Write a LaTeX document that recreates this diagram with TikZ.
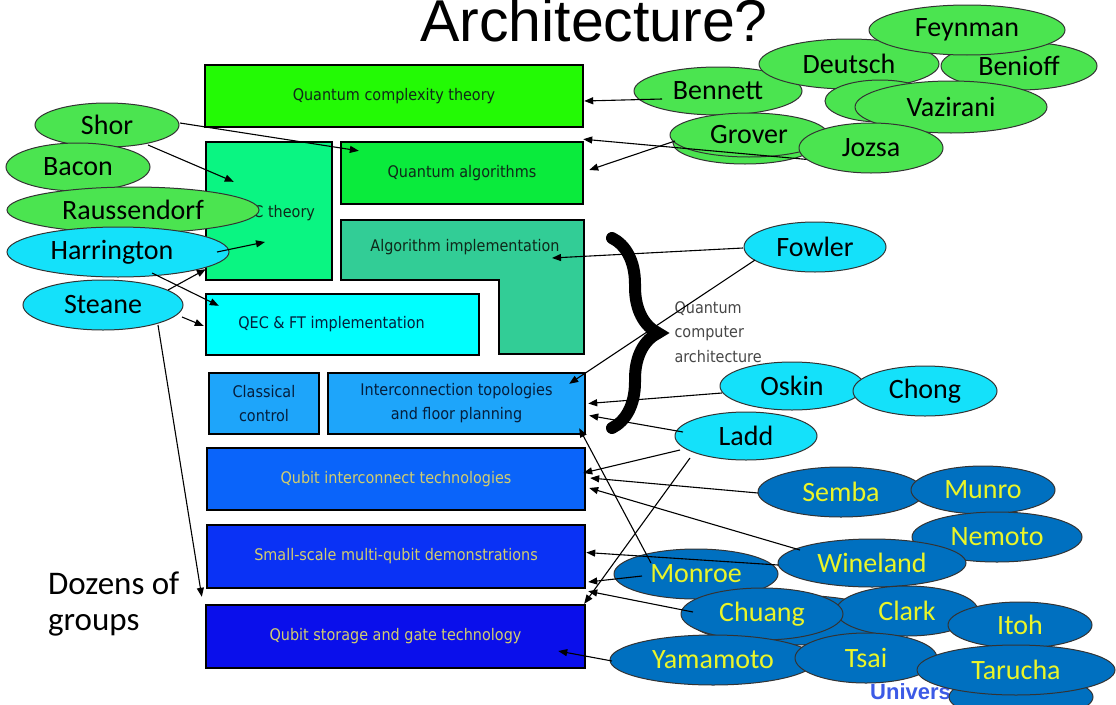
\documentclass[tikz,border=0pt]{standalone}
\usepackage{fontspec}
\setmainfont{Carlito}
\newfontfamily\boxfont{DejaVu Sans}[FakeStretch=0.9]
\newfontfamily\titlefont{Liberation Sans}
\usetikzlibrary{shapes.geometric,calc,arrows.meta,decorations.pathreplacing}

\definecolor{cComplex}{RGB}{35,250,5}
\definecolor{cQecTh}{RGB}{10,245,130}
\definecolor{cAlgo}{RGB}{10,235,60}
\definecolor{cAlgImp}{RGB}{50,205,150}
\definecolor{cQecFt}{RGB}{0,255,255}
\definecolor{cTopo}{RGB}{30,165,250}
\definecolor{cIntc}{RGB}{10,100,250}
\definecolor{cSmall}{RGB}{10,50,245}
\definecolor{cStore}{RGB}{10,15,235}
\definecolor{txtDark}{RGB}{15,40,25}
\definecolor{txtBlue}{RGB}{5,30,60}
\definecolor{txtKhaki}{RGB}{210,205,110}
\definecolor{eGreen}{RGB}{75,228,80}
\definecolor{eCyan}{RGB}{20,225,250}
\definecolor{eBlue}{RGB}{0,112,192}
\definecolor{eYellow}{RGB}{235,245,40}
\definecolor{archGray}{RGB}{70,70,70}
\definecolor{uniBlue}{RGB}{60,90,230}

\begin{document}
\begin{tikzpicture}[x=1pt,y=-1pt,
  layer/.style={draw=black, line width=2.4pt, inner sep=0pt, align=center,
    font=\boxfont\fontsize{16}{24}\selectfont},
  person/.style={ellipse, draw=black!80, line width=1pt, inner sep=0pt,
    font=\fontsize{28}{30}\selectfont},
  grn/.style={person, fill=eGreen},
  cyn/.style={person, fill=eCyan},
  blu/.style={person, fill=eBlue, text=eYellow},
  arr/.style={-{Triangle[length=9pt,width=7pt]}, line width=1.1pt, black}
]
\useasboundingbox (0,0) rectangle (1116,704);

% title
\node[anchor=base west, inner sep=0pt, font=\titlefont\fontsize{59}{60}\selectfont] (title) at (420,41) {Architecture?};

% layers of the stack
\node[layer, fill=cComplex, text=txtDark, minimum width=378pt, minimum height=62pt] (qct) at (394,96) {Quantum complexity theory};
\node[layer, fill=cQecTh, text=txtDark, minimum width=126pt, minimum height=138pt] (qect) at (269,211) {};
\node[font=\boxfont\fontsize{16}{24}\selectfont, text=txtDark] (qecttxt) at (274,213) {QEC theory};
\node[layer, fill=cAlgo, text=txtDark, minimum width=242pt, minimum height=62pt] (qalg) at (462,173) {Quantum algorithms};
\draw[line width=2.4pt, fill=cAlgImp] (341,220) -- (584,220) -- (584,354) -- (499,354) -- (499,280) -- (341,280) -- cycle;
\node[font=\boxfont\fontsize{16}{24}\selectfont, text=txtDark] (alg) at (465,247) {Algorithm implementation};
\node[layer, fill=cQecFt, text=txtBlue, minimum width=273pt, minimum height=61pt] (qecft) at (342.5,324.5) {\hspace*{-22pt}QEC \& FT implementation};
\node[layer, fill=cTopo, text=txtBlue, minimum width=110pt, minimum height=61pt] (clc) at (264,403.5) {Classical\\control};
\node[layer, fill=cTopo, text=txtBlue, minimum width=257pt, minimum height=61pt] (itop) at (456.5,403.5) {Interconnection topologies\\and floor planning};
\node[layer, fill=cIntc, text=txtKhaki, minimum width=378pt, minimum height=62pt] (qit) at (396,479) {Qubit interconnect technologies};
\node[layer, fill=cSmall, text=txtKhaki, minimum width=378pt, minimum height=63pt] (ssd) at (396,556.5) {Small-scale multi-qubit demonstrations};
\node[layer, fill=cStore, text=txtKhaki, minimum width=379pt, minimum height=63pt] (sgt) at (395.5,636.5) {Qubit storage and gate technology};

% brace and its label
\coordinate (braceTop) at (612,238);
\coordinate (braceBot) at (612,428);
\draw[decorate, decoration={brace, amplitude=46pt, aspect=0.5}, line width=12pt, line cap=round] (braceTop) -- (braceBot);
\node[anchor=west, align=left, text=archGray, font=\boxfont\fontsize{16}{24.5}\selectfont] (arch) at (671,332) {Quantum\\computer\\architecture};

% left group
\node[grn, minimum width=144pt, minimum height=44pt] (Shor) at (107,125) {Shor};
\node[grn, minimum width=144pt, minimum height=48pt] (Bacon) at (78,167) {Bacon};
\node[grn, minimum width=252pt, minimum height=46pt] (Raussendorf) at (133,210) {Raussendorf};
\node[cyn, minimum width=222pt, minimum height=50pt] (Harrington) at (118,252) {\hspace*{-12pt}Harrington};
\node[cyn, minimum width=160pt, minimum height=50pt] (Steane) at (103,305) {Steane};

% upper right group
\node[grn, minimum width=168pt, minimum height=48pt] (Bennett) at (718,91) {Bennett};
\node[grn, minimum width=180pt, minimum height=50pt] (Deutsch) at (849,64) {Deutsch};
\node[grn, minimum width=156pt, minimum height=48pt] (Benioff) at (1019,66) {Benioff};
\node[grn, minimum width=196pt, minimum height=50pt] (Feynman) at (967,30) {Feynman};
\node[grn, minimum width=110pt, minimum height=42pt] (backA) at (880,101) {};
\node[grn, minimum width=192pt, minimum height=52pt] (Vazirani) at (951,107) {Vazirani};
\node[grn, minimum width=144pt, minimum height=42pt] (backB) at (745,143) {};
\node[grn, minimum width=158pt, minimum height=44pt] (Grover) at (749,135) {Grover};
\coordinate (jzc) at (871,148);
\draw[arr] ($(jzc)+(-58,12)$) -- ($(qct.south east)+(-1,11)$);
\node[grn, minimum width=144pt, minimum height=50pt] (Jozsa) at (jzc) {Jozsa};

% middle right group
\node[cyn, minimum width=142pt, minimum height=50pt] (Fowler) at (815,247) {Fowler};
\node[cyn, minimum width=144pt, minimum height=48pt] (Oskin) at (792,386) {Oskin};
\node[cyn, minimum width=144pt, minimum height=50pt] (Chong) at (925,391) {Chong};
\node[cyn, minimum width=142pt, minimum height=48pt] (Ladd) at (746,436) {Ladd};

% lower right group
\node[blu, minimum width=166pt, minimum height=50pt] (Semba) at (841,492) {Semba};
\node[blu, minimum width=144pt, minimum height=48pt] (Munro) at (983,490) {Munro};
\node[blu, minimum width=170pt, minimum height=50pt] (Nemoto) at (997,537) {Nemoto};
\node[blu, minimum width=188pt, minimum height=48pt] (Wineland) at (872,563) {Wineland};
\node[blu, minimum width=164pt, minimum height=50pt] (Monroe) at (696,574) {Monroe};
\node[blu, minimum width=200pt, minimum height=50pt] (backC) at (790,620) {};
\node[blu, minimum width=142pt, minimum height=50pt] (Clark) at (907,611) {Clark};
\node[blu, minimum width=162pt, minimum height=52pt] (Chuang) at (762,614) {Chuang};
\node[blu, minimum width=144pt, minimum height=46pt] (Itoh) at (1020,625) {Itoh};
\node[blu, minimum width=206pt, minimum height=50pt] (Yamamoto) at (713,660) {Yamamoto};
\node[blu, minimum width=142pt, minimum height=50pt] (Tsai) at (866,658) {Tsai};
\node[anchor=base west, inner sep=0pt, text=uniBlue, font=\titlefont\bfseries\fontsize{22}{24}\selectfont] (univ) at (870,699) {University};
\node[blu, minimum width=144pt, minimum height=44pt] (backD) at (1021,697) {};
\node[blu, minimum width=198pt, minimum height=50pt] (Tarucha) at (1016,670) {Tarucha};

% side note
\node[anchor=base west, inner sep=0pt, font=\fontsize{33}{36}\selectfont] (dz1) at (48,594) {Dozens of};
\node[anchor=base west, inner sep=0pt, font=\fontsize{33}{36}\selectfont] (dz2) at (48,630) {groups};

% connectors
\draw[arr] ($(Bennett)+(-56,8)$) -- ($(qct.east)+(0,5)$);
\draw[arr] ($(Grover)+(-74,6)$) -- ($(qalg.east)+(5,-3)$);
\draw[arr] ($(Shor)+(73,-2)$) -- ($(qalg.north west)+(19,10)$);
\draw[arr] ($(Shor)+(41,20)$) -- ($(qect.north west)+(29,41)$);
\draw[arr] ($(Harrington)+(99,0)$) -- ($(qect)+(-4,31)$);
\draw[arr] ($(Harrington)+(34,21)$) -- ($(qecft.north west)+(14,13)$);
\draw[arr] ($(Steane)+(65,-15)$) -- ($(qect.south west)+(1,-12)$);
\draw[arr] ($(Steane)+(79,12)$) -- ($(qecft.west)+(-1,1.5)$);
\draw[arr] ($(Steane)+(55,20)$) -- ($(sgt.north west)+(-3,-7)$);
\draw[arr] ($(Fowler)+(-72,1)$) -- ($(alg)+(87,11)$);
\draw[arr] ($(Fowler)+(-60,13)$) -- ($(itop.north east)+(-17,12)$);
\draw[arr] ($(Oskin)+(-70,7)$) -- ($(itop.east)+(2,0)$);
\draw[arr] ($(Ladd)+(-63,-4)$) -- ($(itop.east)+(3,12)$);
\draw[arr] ($(Ladd)+(-66,14)$) -- ($(qit.east)+(-3,-6)$);
\draw[arr] ($(Ladd)+(-56,22)$) -- ($(sgt.north east)+(-2,0)$);
\draw[arr] ($(Monroe)+(-45,-11)$) -- ($(itop.south east)+(-7,-7)$);
\draw[arr] ($(Semba)+(-83,1)$) -- ($(qit.east)+(4,-1)$);
\draw[arr] ($(Wineland)+(-72,-13)$) -- ($(qit.east)+(3,9)$);
\draw[arr] ($(Wineland)+(-94,2)$) -- ($(ssd.east)+(0,-4)$);
\draw[arr] ($(Monroe)+(-54,2)$) -- ($(ssd.east)+(2,25.5)$);
\draw[arr] ($(Chuang)+(-69,-2)$) -- ($(ssd.south east)+(2,2)$);
\draw[arr] ($(Yamamoto)+(-101,1)$) -- ($(sgt.east)+(-28,14.5)$);
\end{tikzpicture}
\end{document}
